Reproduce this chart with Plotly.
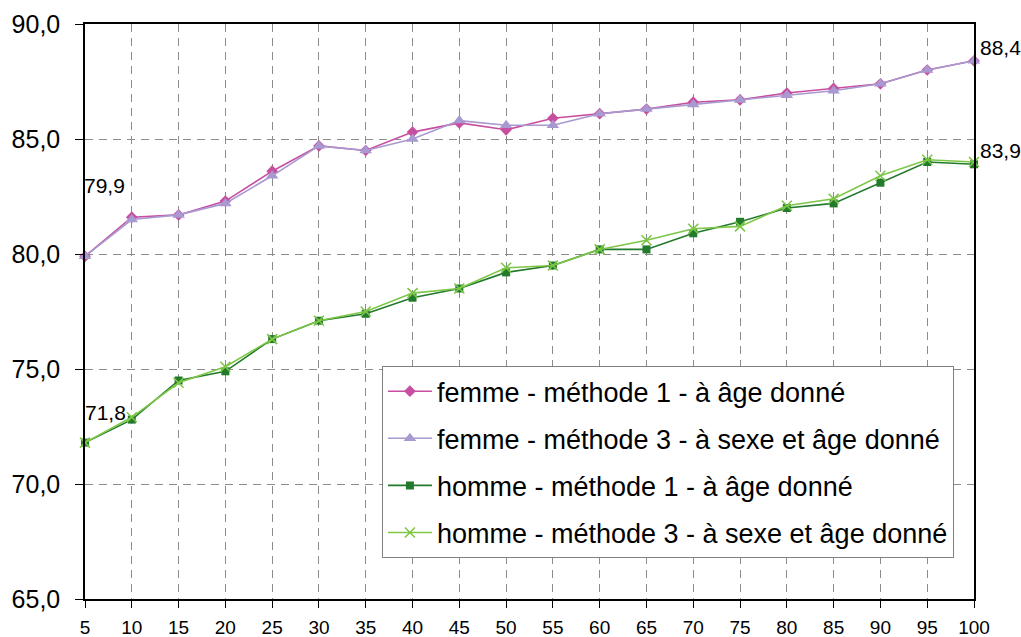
import plotly.graph_objects as go

ages = [5, 10, 15, 20, 25, 30, 35, 40, 45, 50, 55, 60, 65, 70, 75, 80, 85, 90, 95, 100]
femme_m1 = [79.9, 81.6, 81.7, 82.3, 83.6, 84.7, 84.5, 85.3, 85.7, 85.4, 85.9, 86.1, 86.3, 86.6, 86.7, 87.0, 87.2, 87.4, 88.0, 88.4]
femme_m3 = [79.9, 81.5, 81.7, 82.2, 83.4, 84.7, 84.5, 85.0, 85.8, 85.6, 85.6, 86.1, 86.3, 86.5, 86.7, 86.9, 87.1, 87.4, 88.0, 88.4]
homme_m1 = [71.8, 72.8, 74.5, 74.9, 76.3, 77.1, 77.4, 78.1, 78.5, 79.2, 79.5, 80.2, 80.2, 80.9, 81.4, 82.0, 82.2, 83.1, 84.0, 83.9]
homme_m3 = [71.8, 72.9, 74.4, 75.1, 76.3, 77.1, 77.5, 78.3, 78.5, 79.4, 79.5, 80.2, 80.6, 81.1, 81.2, 82.1, 82.4, 83.4, 84.1, 84.0]
names = ["femme - méthode 1 - à âge donné",
         "femme - méthode 3 - à sexe et âge donné",
         "homme - méthode 1 - à âge donné",
         "homme - méthode 3 - à sexe et âge donné"]
y_ticks = [65, 70, 75, 80, 85, 90]
y_ticktext = ["65,0", "70,0", "75,0", "80,0", "85,0", "90,0"]

FONT = "Liberation Sans, Arial, sans-serif"
fig = go.Figure()

styles = [
    (femme_m1, "#C84FA0", dict(symbol="diamond", size=9)),
    (femme_m3, "#A899D0", dict(symbol="triangle-up", size=11)),
    (homme_m1, "#227A2C", dict(symbol="square", size=8)),
    (homme_m3, "#7DC646", dict(symbol="x-thin-open", size=10, line=dict(width=1.6, color="#7DC646"))),
]
for i, (vals, col, mk) in enumerate(styles):
    fig.add_trace(go.Scatter(
        x=ages, y=vals, name=names[i], mode="lines+markers",
        line=dict(color=col, width=1.6),
        marker=dict(color=col, **mk),
        cliponaxis=False, legendgroup=f"g{i}"))

def lab(x, y, txt, xs, ys, anchor="center"):
    fig.add_annotation(x=x, y=y, text=txt, showarrow=False, xref="x", yref="y",
                       xanchor=anchor, xshift=xs, yshift=ys,
                       font=dict(family=FONT, size=21, color="black"))

lab(ages[0], femme_m1[0], "79,9", 19, 71)
lab(ages[0], homme_m1[0], "71,8", 20, 30)
lab(ages[-1], femme_m1[-1], "88,4", 4, 13, "left")
lab(ages[-1], homme_m1[-1], "83,9", 4, 14, "left")

fig.update_layout(
    width=1021, height=637,
    margin=dict(l=85, r=47, t=24, b=38),
    plot_bgcolor="white", paper_bgcolor="white",
    font=dict(family=FONT, color="black"),
    legend=dict(x=0.334, y=0.405, xanchor="left", yanchor="top",
                bgcolor="white", bordercolor="#808080", borderwidth=1,
                font=dict(family=FONT, size=27), tracegroupgap=9,
                itemwidth=44),
    showlegend=True,
)
fig.update_xaxes(range=[5, 100], tickvals=ages, ticktext=[str(a) for a in ages],
                 showgrid=True, gridcolor="#8C8C8C", griddash="8px,6px", gridwidth=1,
                 showline=True, linecolor="black", linewidth=1.5, mirror=True,
                 ticks="outside", ticklen=7, tickcolor="black",
                 tickfont=dict(family=FONT, size=19), ticklabelstandoff=3,
                 zeroline=False, automargin=False)
fig.update_yaxes(range=[65, 90], tickvals=y_ticks, ticktext=y_ticktext,
                 showgrid=True, gridcolor="#8C8C8C", griddash="8px,6px", gridwidth=1,
                 showline=True, linecolor="black", linewidth=1.5, mirror=True,
                 ticks="outside", ticklen=8, tickcolor="black",
                 tickfont=dict(family=FONT, size=25), ticklabelstandoff=10,
                 zeroline=False, automargin=False)

fig.write_html("out.html", config={"displayModeBar": False},
               post_script="document.body.style.margin='0';")
